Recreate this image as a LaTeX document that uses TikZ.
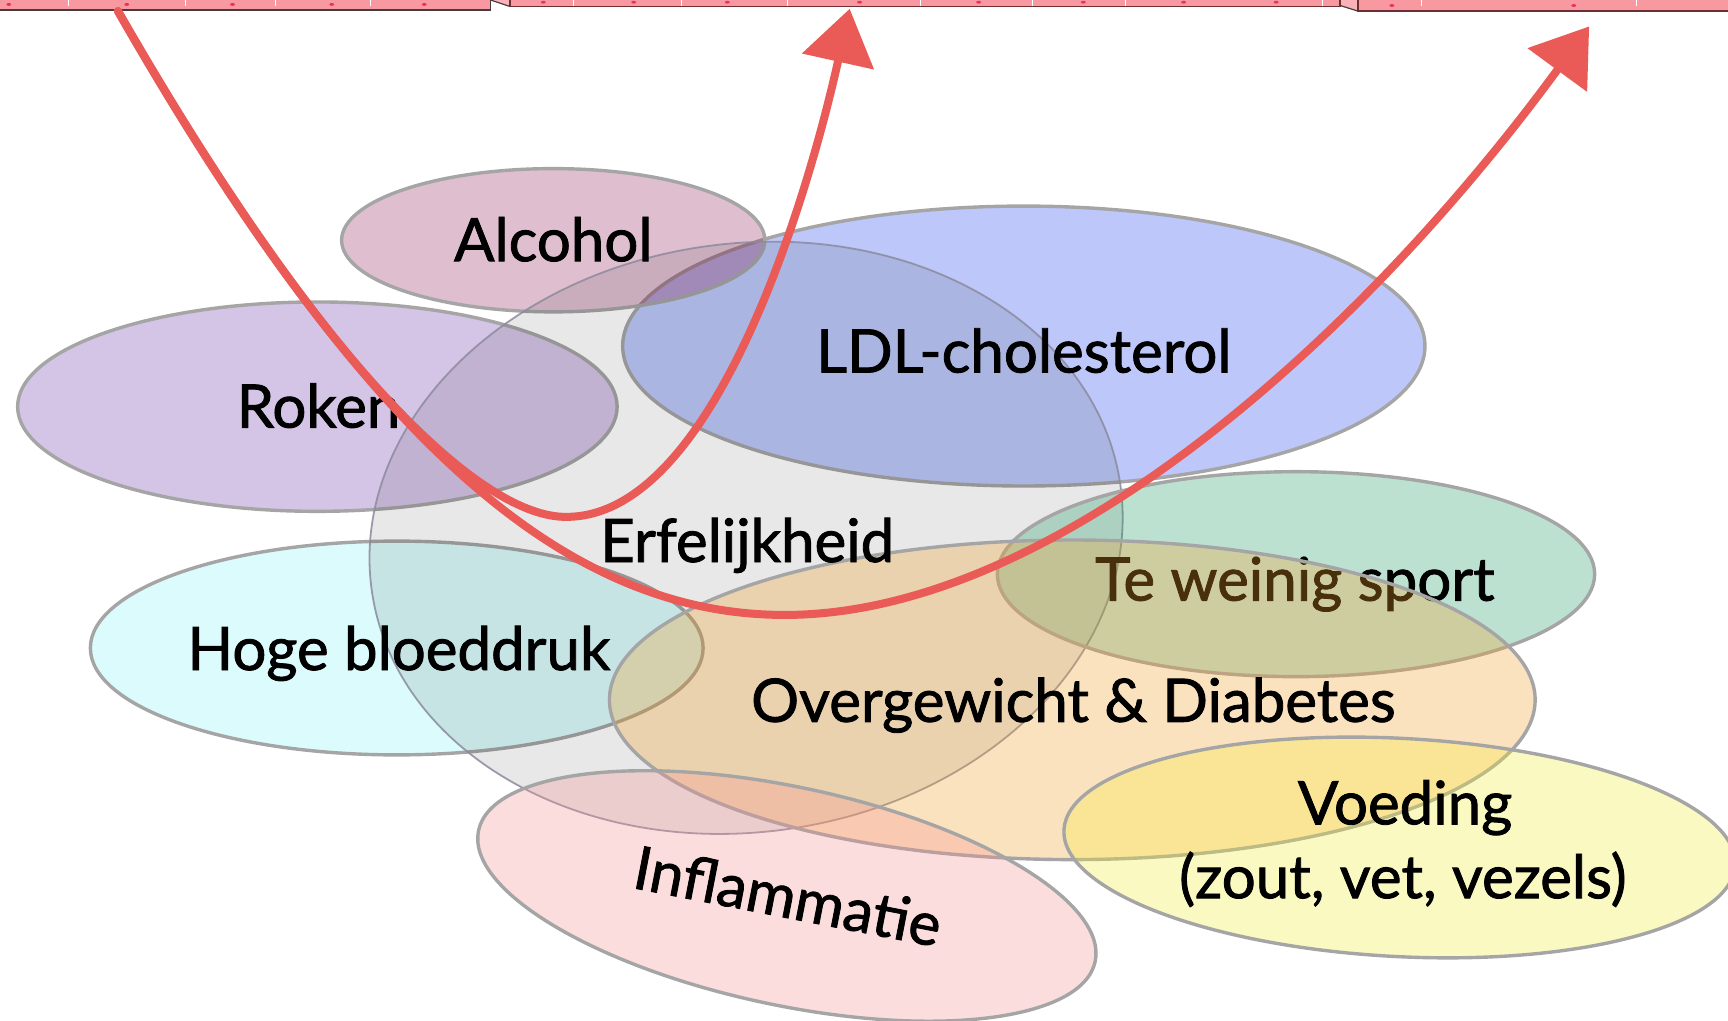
\documentclass[tikz,border=0pt]{standalone}
\usepackage{fontspec}
\setmainfont{Lato}[FakeBold=1.4]
\usetikzlibrary{shapes.geometric,arrows.meta}

% one drawing unit
\newcommand{\dpx}{1.102pt}

\definecolor{barpink}{RGB}{248,152,160}
\definecolor{barflap}{RGB}{250,178,184}
\definecolor{bardot}{RGB}{236,48,92}
\definecolor{baredge}{RGB}{72,58,62}
\definecolor{rim}{RGB}{165,165,165}
\definecolor{erfrim}{RGB}{140,138,158}
\definecolor{chalk}{RGB}{234,90,86}
\definecolor{cAlc}{RGB}{152,45,98}
\definecolor{cLDL}{RGB}{38,72,238}
\definecolor{cRok}{RGB}{115,62,172}
\definecolor{cHoge}{RGB}{138,245,248}
\definecolor{cSport}{RGB}{38,158,105}
\definecolor{cOver}{RGB}{245,162,45}
\definecolor{cVoed}{RGB}{245,238,55}
\definecolor{cInfl}{RGB}{245,145,145}

\tikzset{
  blob/.style={ellipse, inner sep=0pt, outer sep=0pt, draw=rim,
    line width=3.4pt, fill opacity=0.3},
  erfblob/.style={ellipse, inner sep=0pt, outer sep=0pt, fill=black,
    fill opacity=0.09, draw=erfrim, draw opacity=0.85, line width=1.8pt},
  lbl/.style={font=\fontsize{60}{72}\selectfont, text=black, inner sep=0pt},
  chalkline/.style={draw=chalk, line width=8pt, line cap=round,
    -{Triangle[length=54pt, width=72pt]}},
  barline/.style={white, line width=1pt},
  bardotstyle/.style={fill=bardot},
}

\begin{document}
\begin{tikzpicture}[x=\dpx, y=-\dpx]
  \useasboundingbox (0,0) rectangle (1568,926);
  \fill[white] (0,0) rectangle (1568,926);

  % ---- ribbon along the top edge ----
  \fill[barpink] (0,0) rectangle (445,9);
  \fill[barflap] (445,0) -- (463,6) -- (463,0) -- cycle;
  \fill[barpink] (463,0) rectangle (1216,6);
  \fill[barflap] (1216,0) -- (1216,5) -- (1232,10) -- (1232,0) -- cycle;
  \fill[barpink] (1232,0) rectangle (1568,10);
  \foreach \x in {62,168,250,336,520,618,715,835,937,1021,1200,1290,1485}
    \draw[barline] (\x,0) -- (\x,5);
  \foreach \x/\y in {8/4,115/4,211/4,301/4,385/4,493/2,575/2,660/2,780/2,888/2,983/2,1074/2,1158/2,1263/5,1428/5}
    \fill[bardotstyle] (\x,\y) ellipse [x radius=2.2, y radius=1.3];
  \draw[baredge, line width=1.6pt] (0,9) -- (445,9) -- (445,0);
  \draw[baredge, line width=1.2pt] (445,0) -- (463,6);
  \draw[baredge!80!red, line width=1.6pt] (463,0) -- (463,6) -- (1216,6) -- (1216,0);
  \draw[baredge, line width=1.2pt] (1216,5) -- (1232,10);
  \draw[baredge!80!red, line width=1.8pt] (1232,0) -- (1232,10) -- (1568,10);

  % ---- risk factor ellipses ----
  \node[blob, fill=cLDL, minimum width=728*\dpx, minimum height=254*\dpx] (ldl) at (929,314) {};
  \node[blob, fill=cAlc, minimum width=384*\dpx, minimum height=130*\dpx] (alc) at (502,218) {};
  \node[blob, fill=cRok, minimum width=544*\dpx, minimum height=190*\dpx] (rok) at (288,369) {};
  \node[blob, fill=cHoge, minimum width=556*\dpx, minimum height=194*\dpx] (hoge) at (360,588) {};
  \node[erfblob, minimum width=686*\dpx, minimum height=534*\dpx, rotate=8] (erf) at (677,488) {};
  \node[blob, fill=cSport, minimum width=542*\dpx, minimum height=186*\dpx] (sport) at (1176,521) {};
  \node[lbl, anchor=base] (tsport) at (1175,545) {Te weinig sport};
  \node[blob, fill=cOver, minimum width=840*\dpx, minimum height=290*\dpx] (over) at (973,635) {};
  \node[blob, fill=cInfl, minimum width=572*\dpx, minimum height=198*\dpx, rotate=-12] (infl) at (714,813) {};
  \node[blob, fill=cVoed, minimum width=610*\dpx, minimum height=198*\dpx, rotate=-3] (voed) at (1270,769) {};

  % ---- labels ----
  \node[lbl, anchor=base] (talc) at (502,237) {Alcohol};
  \node[lbl, anchor=base] (tldl) at (929,338) {LDL-cholesterol};
  \node[lbl, anchor=base] (trok) at (289,388) {Roken};
  \node[lbl, anchor=base] (terf) at (678,510) {Erfelijkheid};
  \node[lbl, anchor=base] (thoge) at (362,608) {Hoge bloeddruk};
  \node[lbl, anchor=base] (tover) at (974,655) {Overgewicht \& Diabetes};
  \node[lbl, anchor=base] (tvoed) at (1275,748) {Voeding};
  \node[lbl, anchor=base] (tvoed2) at (1273,815) {(zout, vet, vezels)};
  \node[lbl, rotate=-11] (tinfl) at (715,813) {Inflammatie};

  % ---- the two pathways ----
  \coordinate (src) at (107,10);
  \coordinate (dipA) at (514,469);
  \coordinate (tipA) at (771,8);
  \coordinate (dipB) at (712,558);
  \coordinate (tipB) at (1442,24);
  \draw[chalkline] (src) .. controls (297,343) and (440,470) .. (dipA)
                         .. controls (650,469) and (735,170) .. (tipA);
  \draw[chalkline] (src) .. controls (320,380) and (500,558) .. (dipB)
                         .. controls (960,558) and (1240,300) .. (tipB);
\end{tikzpicture}
\end{document}
